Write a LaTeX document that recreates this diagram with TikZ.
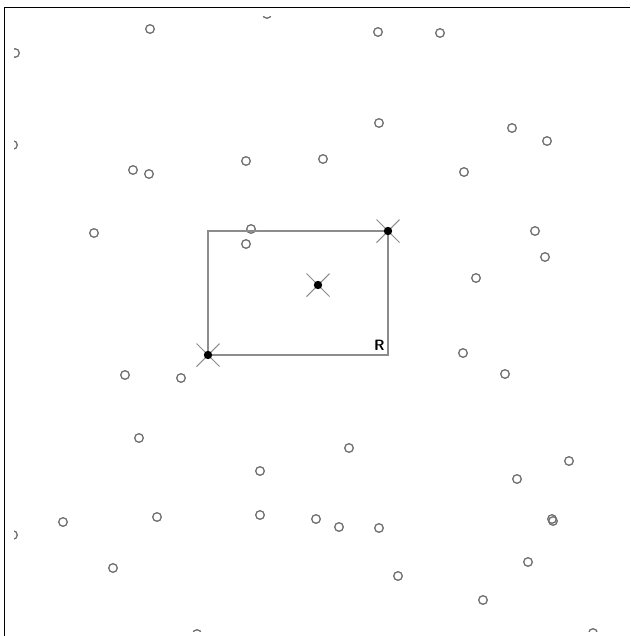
\documentclass[tikz,border=0pt]{standalone}
\usetikzlibrary{calc}
\definecolor{ptgrey}{HTML}{707070}
\definecolor{boxgrey}{HTML}{8C8C8C}
\tikzset{
  frameline/.style={draw=black,line width=1.1pt},
  sample/.style={draw=ptgrey,line width=0.75pt},
  query/.style={draw=boxgrey,line width=0.8pt},
  crossarm/.style={draw=boxgrey,line width=0.6pt},
  hit/.style={fill=black},
  cornerlbl/.style={font=\sffamily\bfseries\fontsize{8.5}{10}\selectfont,inner sep=0pt},
}
\begin{document}
\begin{tikzpicture}[x=0.02cm,y=-0.02cm]
  \useasboundingbox (0,0) rectangle (630,636);

  % frame (top and left only)
  \draw[frameline] (4.5,636) -- (4.5,7.5) -- (630,7.5);

  % sample points
  \begin{scope}
    \clip (14,16) rectangle (640,631);
    \foreach \px/\py in {150/29,15/53,13/145,133/170,149/174,
                         267/14,378/32,379/123,246/161,323/159,
                         440/33,512/128,547/141,464/172,
                         94/233,125/375,181/378,251/229,246/244,
                         535/231,545/257,476/278,463/353,505/374,
                         139/438,63/522,157/517,13/535,113/568,197/634,
                         349/448,260/471,260/515,316/519,339/527,379/528,398/576,
                         569/461,517/479,552/519,553/521,528/562,483/600,593/633}
      \draw[sample] (\px,\py) circle (4.3);
  \end{scope}

  % query range
  \coordinate (lo) at (208,355);
  \coordinate (hi) at (388,231);
  \coordinate (mid) at (318,285);
  \draw[query] (lo) rectangle (hi);
  \node[cornerlbl,anchor=south east] (rlbl) at ($(388,355)+(-3,-4)$) {R};

  % reported points
  \foreach \c in {lo,hi,mid}{
    \draw[crossarm] ($(\c)+(-11.5,-11.5)$) -- ($(\c)+(11.5,11.5)$);
    \draw[crossarm] ($(\c)+(-11.5,11.5)$) -- ($(\c)+(11.5,-11.5)$);
    \fill[hit] (\c) circle (4.2);
  }
\end{tikzpicture}
\end{document}
